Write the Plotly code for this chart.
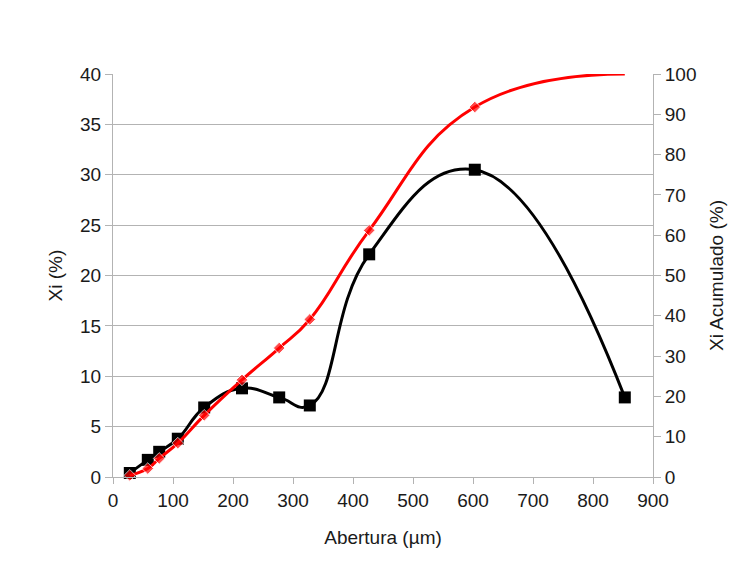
import plotly.graph_objects as go

abertura = [28, 58, 77, 108, 152, 215, 277, 328, 427, 603, 853]
xi = [0.4, 1.7, 2.5, 3.8, 6.9, 8.8, 7.9, 7.1, 22.1, 30.5, 7.9]
xi_acum = [0.4, 2.1, 4.6, 8.4, 15.3, 24.1, 32.0, 39.1, 61.2, 91.8, 100.0]

x_ticks = list(range(0, 901, 100))
y1_ticks = list(range(0, 41, 5))
y2_ticks = list(range(0, 101, 10))

grid = "#b3b3b3"
font_family = "Liberation Sans, Arial, sans-serif"

fig = go.Figure()
fig.add_trace(go.Scatter(
    x=abertura, y=xi_acum, yaxis="y2", mode="lines+markers",
    line=dict(color="#ff0000", width=3, shape="spline", smoothing=1.3),
    marker=dict(symbol="diamond", size=[9] * (len(abertura) - 1) + [0], color="#ff0000"),
    showlegend=False, cliponaxis=False,
))
fig.add_trace(go.Scatter(
    x=abertura, y=xi, mode="lines+markers",
    line=dict(color="#000000", width=3, shape="spline", smoothing=1.3),
    marker=dict(symbol="square", size=12, color="#000000"),
    showlegend=False, cliponaxis=False,
))

fig.update_layout(
    width=747, height=569,
    margin=dict(l=113, r=94, t=74, b=92),
    paper_bgcolor="white", plot_bgcolor="white",
    font=dict(family=font_family, size=19, color="#1a1a1a"),
    xaxis=dict(
        range=[0, 900], tickvals=x_ticks, ticktext=[str(v) for v in x_ticks],
        showgrid=False, zeroline=False, showline=True, linecolor=grid, linewidth=1,
        ticks="outside", ticklen=6, tickcolor=grid,
        title=dict(text="Abertura (µm)", font=dict(size=19), standoff=20),
    ),
    yaxis=dict(
        range=[0, 40], tickvals=y1_ticks, ticktext=[str(v) for v in y1_ticks],
        showgrid=True, gridcolor=grid, gridwidth=1, zeroline=False,
        showline=True, linecolor=grid, linewidth=1,
        ticks="outside", ticklen=7, tickcolor=grid,
        title=dict(text="Xi (%)", font=dict(size=19), standoff=12),
    ),
    yaxis2=dict(
        range=[0, 100], tickvals=y2_ticks, ticktext=[str(v) for v in y2_ticks],
        overlaying="y", side="right", showgrid=False, zeroline=False,
        showline=True, linecolor=grid, linewidth=1,
        ticks="outside", ticklen=7, tickcolor=grid,
        title=dict(text="Xi Acumulado (%)", font=dict(size=19), standoff=14),
    ),
)

fig.write_html("out.html")
